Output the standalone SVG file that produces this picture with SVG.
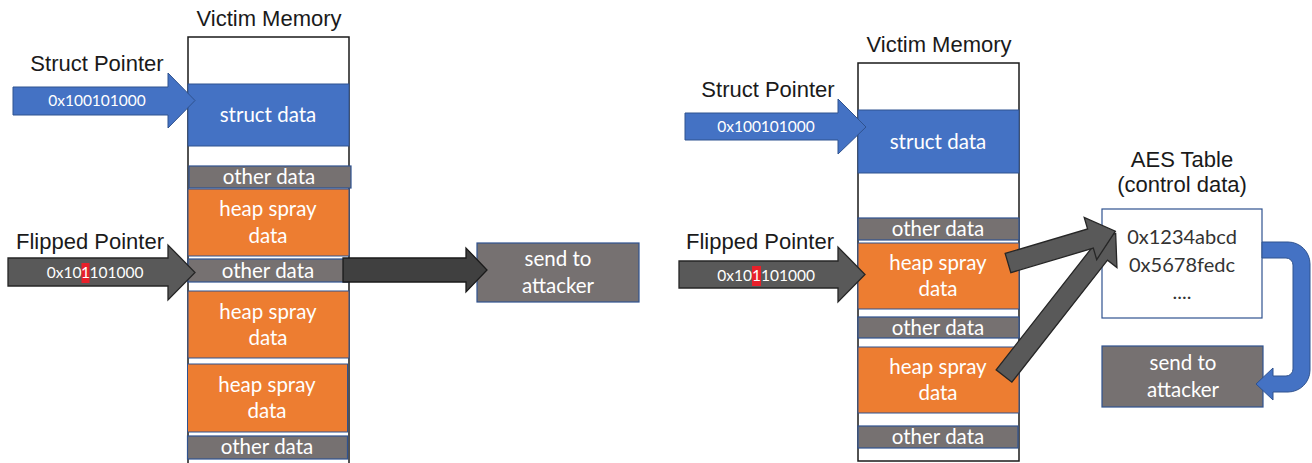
<svg xmlns="http://www.w3.org/2000/svg" width="1312" height="463" viewBox="0 0 1312 463">
<style>
.lbl{font-family:"Liberation Sans",Arial,sans-serif;font-size:22px;fill:#1a1a1a;text-anchor:middle}
.cell{font-family:Lato,"Open Sans",sans-serif;font-size:20.5px;fill:#ffffff;text-anchor:middle}
.ptr{font-family:Lato,"Open Sans",sans-serif;font-size:15.5px;fill:#ffffff}
.aes{font-family:Lato,"Open Sans",sans-serif;font-size:20px;fill:#333333;text-anchor:middle}
.col{fill:#ffffff;stroke:#1a1a1a;stroke-width:1.5}
.blue{fill:#4472C4;stroke:#2F528F;stroke-width:1}
.gray{fill:#767171;stroke:#2F528F;stroke-width:1.2}
.orange{fill:#ED7D31;stroke:#2F528F;stroke-width:1}
.dark{fill:#595959;stroke:#262626;stroke-width:1.3}
.darker{fill:#404040;stroke:#1a1a1a;stroke-width:1.3}
.red{fill:#E8202A}
</style>

<!-- LEFT PANEL -->
<g id="left-memory">
  <text class="lbl" x="269" y="26">Victim Memory</text>
  <rect class="col" x="188" y="37" width="161" height="440"/>
</g>
<g id="left-struct-data">
  <rect class="blue" x="188" y="84" width="161" height="62"/>
  <text class="cell" x="268" y="122">struct data</text>
</g>
<g id="left-other-1">
  <rect class="gray" x="189" y="166" width="162" height="22"/>
  <text class="cell" x="269" y="184">other data</text>
</g>
<g id="left-heap-1">
  <rect class="orange" x="188" y="189" width="161" height="67"/>
  <text class="cell" x="268" y="216">heap spray</text>
  <text class="cell" x="268" y="243">data</text>
</g>
<g id="left-other-2">
  <rect class="gray" x="188" y="259" width="161" height="23"/>
  <text class="cell" x="268" y="278">other data</text>
</g>
<g id="left-heap-2">
  <rect class="orange" x="188" y="291" width="161" height="67"/>
  <text class="cell" x="268" y="319">heap spray</text>
  <text class="cell" x="268" y="345">data</text>
</g>
<g id="left-heap-3">
  <rect class="orange" x="187.5" y="364" width="160" height="68"/>
  <text class="cell" x="267" y="392">heap spray</text>
  <text class="cell" x="267" y="418">data</text>
</g>
<g id="left-other-3">
  <rect class="gray" x="187.5" y="436" width="160" height="23"/>
  <text class="cell" x="267" y="454">other data</text>
</g>

<g id="left-struct-pointer">
  <text class="lbl" x="97" y="71">Struct Pointer</text>
  <polygon class="blue" points="13,87 168,87 168,73 195,100.5 168,128 168,115 13,115"/>
  <text class="ptr" x="97" y="106" text-anchor="middle">0x100101000</text>
</g>
<g id="left-flipped-pointer">
  <text class="lbl" x="90" y="249">Flipped Pointer</text>
  <polygon class="dark" points="8,258 168,258 168,245 195,272.5 168,300 168,286 8,286"/>
  <rect class="red" x="81.5" y="263" width="8" height="20"/>
  <text class="ptr" x="81.5" y="278" text-anchor="end">0x10</text>
  <text class="ptr" x="85.5" y="278" text-anchor="middle">1</text>
  <text class="ptr" x="89.5" y="278" text-anchor="start">101000</text>
</g>
<g id="left-send">
  <rect class="gray" x="477" y="243" width="162" height="59"/>
  <text class="cell" x="558" y="266">send to</text>
  <text class="cell" x="558" y="293">attacker</text>
</g>

<!-- RIGHT PANEL -->
<g id="right-memory">
  <text class="lbl" x="939" y="52">Victim Memory</text>
  <rect class="col" x="858" y="63" width="161" height="398"/>
</g>
<g id="right-struct-data">
  <rect class="blue" x="858" y="110" width="161" height="63"/>
  <text class="cell" x="938" y="149">struct data</text>
</g>
<g id="right-other-1">
  <rect class="gray" x="858" y="218" width="161" height="22"/>
  <text class="cell" x="938" y="236">other data</text>
</g>
<g id="right-heap-1">
  <rect class="orange" x="858" y="243" width="161" height="66"/>
  <text class="cell" x="938" y="270">heap spray</text>
  <text class="cell" x="938" y="296">data</text>
</g>
<g id="right-other-2">
  <rect class="gray" x="858" y="317" width="161" height="21"/>
  <text class="cell" x="938" y="335">other data</text>
</g>
<g id="right-heap-2">
  <rect class="orange" x="858" y="347" width="161" height="66"/>
  <text class="cell" x="938" y="374">heap spray</text>
  <text class="cell" x="938" y="400">data</text>
</g>
<g id="right-other-3">
  <rect class="gray" x="858" y="426" width="160" height="22"/>
  <text class="cell" x="938" y="444">other data</text>
</g>

<g id="right-struct-pointer">
  <text class="lbl" x="768" y="97">Struct Pointer</text>
  <polygon class="blue" points="685,113 838,113 838,99 866,127 838,154 838,140 685,140"/>
  <text class="ptr" x="766" y="132" text-anchor="middle">0x100101000</text>
</g>
<g id="right-flipped-pointer">
  <text class="lbl" x="760" y="249">Flipped Pointer</text>
  <polygon class="dark" points="679,261 838,261 838,247 865,274.5 838,302 838,288 679,288"/>
  <rect class="red" x="752" y="266" width="9" height="20"/>
  <text class="ptr" x="752" y="281" text-anchor="end">0x10</text>
  <text class="ptr" x="756.5" y="281" text-anchor="middle">1</text>
  <text class="ptr" x="761" y="281" text-anchor="start">101000</text>
</g>

<g id="aes-table">
  <text class="lbl" x="1182" y="167">AES Table</text>
  <text class="lbl" x="1182" y="192">(control data)</text>
  <rect x="1102" y="209" width="160" height="109" fill="#ffffff" stroke="#2F528F" stroke-width="1.2"/>
  <text class="aes" x="1182" y="244">0x1234abcd</text>
  <text class="aes" x="1182" y="272">0x5678fedc</text>
  <text class="aes" x="1182" y="299">....</text>
</g>
<g id="right-send">
  <rect class="gray" x="1102" y="346" width="161" height="61"/>
  <text class="cell" x="1183" y="370">send to</text>
  <text class="cell" x="1183" y="397">attacker</text>
</g>

<g id="connectors">
  <polygon class="darker" points="343,258 466,258 466,248 487,270 466,292 466,282 343,282"/>
  <polygon class="dark" transform="translate(1004,376) rotate(-51.9)" points="0,-10 155,-10 155,-22 181,0 155,22 155,10 0,10"/>
  <polygon class="dark" transform="translate(1008,263) rotate(-16.5)" points="0,-10 86,-10 86,-22 112,0 86,22 86,10 0,10"/>
  <path class="blue" d="M1262,242 L1288,242 A22,22 0 0 1 1310,264 L1310,370 A22,22 0 0 1 1288,392 L1273,392 L1273,400 L1256,384 L1273,368 L1273,376 L1286,376 A7,7 0 0 0 1293,369 L1293,265 A7,7 0 0 0 1286,258 L1262,258 Z"/>
</g>
</svg>
